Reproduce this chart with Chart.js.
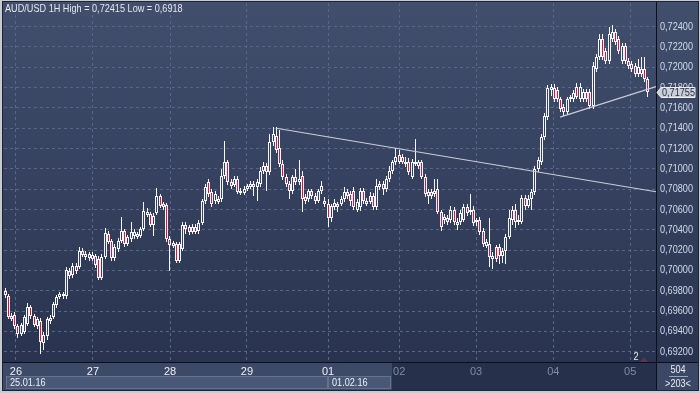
<!DOCTYPE html>
<html>
<head>
<meta charset="utf-8">
<title>AUD/USD 1H</title>
<script src="https://cdn.jsdelivr.net/npm/chart.js@4.4.1/dist/chart.umd.min.js"></script>
<style>
  html, body { margin: 0; padding: 0; background: #c6cad1; }
  #box { width: 700px; height: 393px; }
  canvas { display: block; }
</style>
</head>
<body>
<div id="box"><canvas id="chart" width="700" height="393"></canvas></div>
<script>
// hourly candles, prices in pips (x 0.0001)
const open = [
  6980,6975,6955,6956,6945,6937,6939,6947,6964,6955,
  6945,6950,6929,6935,6953,6954,6966,6974,6977,6975,
  6999,6996,7004,7003,7019,7013,7016,7011,7014,7011,
  6993,7013,7036,7029,7012,7021,7029,7039,7026,7031,
  7034,7036,7034,7041,7058,7056,7045,7057,7073,7065,
  7064,7031,7024,7026,7009,7021,7045,7043,7038,7043,
  7039,7047,7068,7087,7077,7068,7070,7070,7093,7107,
  7087,7084,7090,7078,7076,7080,7082,7085,7082,7085,
  7098,7103,7097,7126,7132,7121,7105,7092,7085,7078,
  7092,7087,7093,7072,7070,7078,7073,7068,7078,7068,
  7065,7052,7062,7065,7065,7070,7077,7075,7078,7060,
  7062,7078,7068,7067,7073,7062,7082,7085,7080,7090,
  7098,7107,7114,7112,7107,7107,7092,7105,7103,7107,
  7092,7073,7077,7075,7080,7058,7050,7052,7050,7060,
  7048,7048,7050,7062,7060,7060,7050,7050,7039,7024,
  7026,7011,7023,7023,7014,7019,7033,7050,7060,7048,
  7048,7071,7063,7070,7077,7100,7107,7131,7151,7181,
  7180,7178,7169,7161,7156,7169,7169,7181,7169,7169,
  7176,7176,7162,7198,7210,7228,7216,7206,7228,7235,
  7228,7206,7221,7206,7203,7201,7193,7198,7198,7188
];
const high = [
  6983,6977,6958,6959,6947,6948,6956,6968,6966,6957,
  6954,6953,6939,6954,6956,6969,6976,6979,6979,7003,
  7002,7007,7007,7023,7022,7019,7018,7018,7016,7014,
  7016,7042,7039,7031,7026,7032,7053,7041,7035,7048,
  7041,7038,7043,7067,7061,7058,7057,7081,7075,7067,
  7066,7034,7029,7028,7028,7048,7048,7045,7046,7046,
  7050,7070,7085,7090,7080,7078,7073,7100,7127,7109,
  7090,7093,7093,7081,7083,7085,7088,7088,7090,7102,
  7107,7106,7134,7141,7141,7138,7109,7095,7088,7094,
  7100,7109,7098,7075,7080,7080,7076,7080,7088,7072,
  7070,7065,7070,7067,7073,7082,7080,7078,7082,7070,
  7081,7081,7071,7077,7076,7090,7088,7088,7093,7103,
  7109,7121,7119,7115,7112,7111,7110,7129,7109,7109,
  7095,7080,7080,7090,7090,7060,7056,7055,7063,7062,
  7052,7060,7065,7065,7075,7063,7052,7053,7042,7031,
  7052,7018,7025,7026,7022,7036,7060,7063,7065,7055,
  7074,7074,7074,7080,7103,7112,7134,7155,7183,7184,
  7184,7181,7171,7164,7171,7173,7178,7185,7185,7179,
  7179,7179,7205,7213,7233,7233,7219,7240,7241.5,7238,
  7231,7224,7224,7209,7206,7204,7208,7210,7210,7190
];
const low = [
  6973,6952,6950,6942,6934,6935,6937,6945,6952,6944,
  6942,6918,6922,6932,6947,6952,6963,6972,6972,6972,
  6992,6993,6997,7001,7013,7010,7009,7009,7002,6991,
  6991,7011,7026,7009,7009,7018,7027,7023,7024,7028,
  7031,7031,7032,7039,7053,7043,7034,7055,7061,7060,
  7028,6999,7022,7007,7007,7019,7036,7035,7036,7036,
  7036,7045,7065,7072,7062,7065,7065,7067,7090,7084,
  7080,7082,7075,7074,7074,7078,7080,7073,7068,7082,
  7095,7078,7094,7123,7116,7102,7089,7082,7070,7075,
  7084,7084,7058,7065,7067,7070,7065,7066,7075,7062,
  7043,7048,7060,7058,7063,7067,7070,7063,7060,7058,
  7059,7065,7063,7065,7060,7060,7079,7074,7077,7087,
  7095,7104,7105,7105,7102,7094,7090,7103,7100,7090,
  7072,7065,7070,7072,7056,7039,7046,7045,7047,7045,
  7040,7045,7048,7054,7055,7044,7044,7035,7023,7022,
  7003,7001,7008,7006,7007,7006,7031,7045,7042,7045,
  7046,7060,7061,7060,7074,7097,7104,7128,7148,7172,
  7166,7166,7156,7152,7153,7166,7166,7169,7166,7166,
  7166,7159,7159,7195,7207,7207,7203,7203,7225,7222,
  7213,7203,7203,7198,7195,7190,7190,7190,7186,7171
];
const close = [
  6976,6954,6952,6945,6937,6946,6954,6964,6955,6946,
  6952,6930,6936,6952,6950,6967,6974,6977,6975,7000,
  6995,7004,6999,7019,7015,7016,7012,7015,7005,6993,
  7013,7037,7028,7012,7023,7029,7039,7026,7033,7038,
  7038,7033,7041,7059,7055,7045,7054,7073,7063,7062,
  7031,7025,7027,7009,7026,7045,7041,7038,7043,7038,
  7047,7068,7082,7075,7065,7075,7067,7093,7107,7087,
  7083,7090,7077,7076,7080,7083,7085,7082,7087,7098,
  7103,7097,7126,7134,7119,7105,7092,7085,7078,7092,
  7087,7090,7070,7068,7078,7073,7068,7078,7083,7065,
  7052,7063,7066,7062,7070,7077,7073,7068,7062,7067,
  7078,7068,7065,7073,7062,7083,7085,7080,7090,7098,
  7107,7112,7107,7107,7105,7097,7107,7107,7107,7092,
  7075,7077,7073,7078,7058,7043,7053,7048,7060,7048,
  7045,7057,7062,7057,7058,7047,7048,7038,7026,7028,
  7013,7014,7011,7014,7019,7033,7052,7060,7048,7050,
  7071,7063,7070,7077,7100,7109,7131,7152,7180,7178,
  7169,7169,7159,7156,7169,7171,7175,7171,7181,7176,
  7169,7162,7201,7210,7228,7210,7206,7233,7235,7225,
  7216,7221,7206,7201,7198,7193,7200,7193,7188,7175.5
];

const dayLabels = ['26', '27', '28', '29', '01', '02', '03', '04', '05'];
const dayPos = [3.4, 27.2, 51.1, 74.9, 100, 122, 145.8, 169.7, 193.5];
const priceTicks = [0.692, 0.694, 0.696, 0.698, 0.700, 0.702, 0.704, 0.706, 0.708,
                    0.710, 0.712, 0.714, 0.716, 0.718, 0.720, 0.722, 0.724];
const trendA = [{ x: 84, y: 0.7140 }, { x: 201.5, y: 0.70775 }];
const trendB = [{ x: 171.8, y: 0.7151 }, { x: 201.5, y: 0.7181 }];
const title = 'AUD/USD 1H High = 0,72415 Low = 0,6918';

const FONT = "'Liberation Sans', Arial, sans-serif";
Chart.defaults.font.family = FONT;
Chart.defaults.font.size = 11;

const toPrice = v => v / 10000;
const fmt = v => v.toFixed(5).replace('.', ',');

const wicks = open.map((o, i) => ({ x: i, y: [toPrice(low[i]), toPrice(high[i])] }));
const bodies = open.map((o, i) => ({ x: i, y: [toPrice(o), toPrice(close[i])] }));
const bodyFill = close.map((c, i) => c < open[i] ? '#dc143c' : '#34405d');

// the terminal font is narrow, so squeeze the text a bit
function narrowText(c, text, x, y, align) {
  c.save();
  c.translate(x, y);
  c.scale(0.83, 1);
  c.textAlign = align;
  c.fillText(text, 0, 0);
  c.restore();
}

// keep the thin candles on whole pixels
const snap = {
  id: 'snap',
  beforeDatasetsDraw(chart) {
    chart.data.datasets.forEach((ds, i) => {
      const meta = chart.getDatasetMeta(i);
      if (meta.type !== 'bar') return;
      meta.data.forEach(el => {
        el.x = Math.floor(el.x) + 0.5;
        el.y = Math.round(el.y);
        el.base = Math.round(el.base);
        if (el.y === el.base) el.base += 1;
      });
    });
  }
};

// frame, bottom strips, title, price labels and price box
const frame = {
  id: 'frame',
  beforeDraw(chart) {
    const c = chart.ctx;
    c.save();
    c.fillStyle = '#c6cad1';
    c.fillRect(0, 0, 700, 393);
    c.fillStyle = '#1e2537';
    c.fillRect(2, 1, 697, 390);
    const g = c.createLinearGradient(0, 2, 0, 363);
    g.addColorStop(0, '#414f6d');
    g.addColorStop(1, '#29334f');
    c.fillStyle = g;
    c.fillRect(3, 2, 695, 361);
    c.fillStyle = '#3d4a67';
    c.fillRect(3, 363, 389, 27);
    c.fillStyle = '#4a5877';
    c.fillRect(6, 376, 322, 13);
    c.fillRect(328, 376, 63, 13);
    c.strokeStyle = '#66738f';
    c.lineWidth = 1;
    c.strokeRect(6.5, 376.5, 321, 12);
    c.strokeRect(328.5, 376.5, 62, 12);
    c.fillStyle = '#26304a';
    c.fillRect(392, 363, 264, 27);
    c.fillStyle = '#3b4865';
    c.fillRect(657, 363, 41, 27);
    c.restore();
  },
  afterDraw(chart) {
    const c = chart.ctx;
    const ys = chart.scales.y;
    c.save();
    c.strokeStyle = '#0b0f18';
    c.lineWidth = 1;
    c.beginPath();
    c.moveTo(656.5, 2); c.lineTo(656.5, 390);
    c.moveTo(3, 362.5); c.lineTo(698, 362.5);
    c.stroke();

    c.font = '11px ' + FONT;
    c.textBaseline = 'middle';

    c.fillStyle = '#d3dbea';
    ys.ticks.forEach(t => narrowText(c, fmt(t.value), 660, ys.getPixelForValue(t.value), 'left'));

    c.fillStyle = '#e4e8f0';
    narrowText(c, title, 5, 8.5, 'left');

    c.fillStyle = '#eef1f6';
    narrowText(c, '25.01.16', 10, 383, 'left');
    narrowText(c, '01.02.16', 332, 383, 'left');

    // last price box
    const last = toPrice(close[close.length - 1]);
    const yy = Math.round(ys.getPixelForValue(last)) + 0.5;
    c.beginPath();
    c.moveTo(657, yy);
    c.lineTo(661, yy - 5);
    c.lineTo(695, yy - 5);
    c.lineTo(695, yy + 5);
    c.lineTo(661, yy + 5);
    c.closePath();
    c.fillStyle = '#cbd0d8';
    c.fill();
    c.strokeStyle = '#eef0f4';
    c.stroke();
    c.fillStyle = '#1f2840';
    narrowText(c, fmt(last), 662, yy, 'left');

    c.fillStyle = '#e8ecf3';
    narrowText(c, '504', 678, 370, 'center');
    narrowText(c, '>203<', 678, 384, 'center');
    c.strokeStyle = '#9aa4b8';
    c.beginPath();
    c.moveTo(669, 376.5); c.lineTo(688, 376.5);
    c.stroke();

    narrowText(c, '2', 636, 357, 'center');
    c.fillStyle = '#5d3552';
    c.beginPath();
    c.moveTo(640, 362); c.lineTo(644, 357); c.lineTo(648, 362);
    c.closePath();
    c.fill();
    c.restore();
  }
};

new Chart(document.getElementById('chart'), {
  type: 'bar',
  data: {
    datasets: [
      { type: 'line', data: trendA, borderColor: '#c9ced8', borderWidth: 1.2, pointRadius: 0, order: 0 },
      { type: 'line', data: trendB, borderColor: '#c9ced8', borderWidth: 1.2, pointRadius: 0, order: 0 },
      { data: bodies, backgroundColor: bodyFill, borderColor: '#f4f6fa', borderWidth: 1,
        borderSkipped: false, barThickness: 3, grouped: false, inflateAmount: 0, order: 1 },
      { data: wicks, backgroundColor: '#f4f6fa', borderWidth: 0,
        barThickness: 1, grouped: false, inflateAmount: 0, order: 2 }
    ]
  },
  options: {
    responsive: false,
    animation: false,
    devicePixelRatio: 1,
    layout: { padding: { left: 4, top: 3, right: 0, bottom: 0 } },
    plugins: { legend: { display: false }, tooltip: { enabled: false } },
    scales: {
      x: {
        type: 'linear', min: -0.31, max: 201.5, offset: false,
        grid: { color: '#586786', drawTicks: false, offset: false },
        border: { display: false, dash: [3, 3] },
        afterBuildTicks: s => { s.ticks = dayPos.map(v => ({ value: v })); },
        afterFit: s => { s.height = 30; },
        ticks: {
          callback: (v, i) => dayLabels[i],
          color: ctx => ctx.index >= 5 ? '#7f8ca5' : '#eef1f6',
          padding: 2, maxRotation: 0, autoSkip: false
        }
      },
      y: {
        position: 'right', min: 0.69089, max: 0.72633,
        grid: { color: '#586786', drawTicks: false },
        border: { display: false, dash: [3, 3] },
        afterBuildTicks: s => { s.ticks = priceTicks.map(v => ({ value: v })); },
        afterFit: s => { s.width = 44; },
        ticks: { display: false }
      }
    }
  },
  plugins: [snap, frame]
});
</script>
</body>
</html>
